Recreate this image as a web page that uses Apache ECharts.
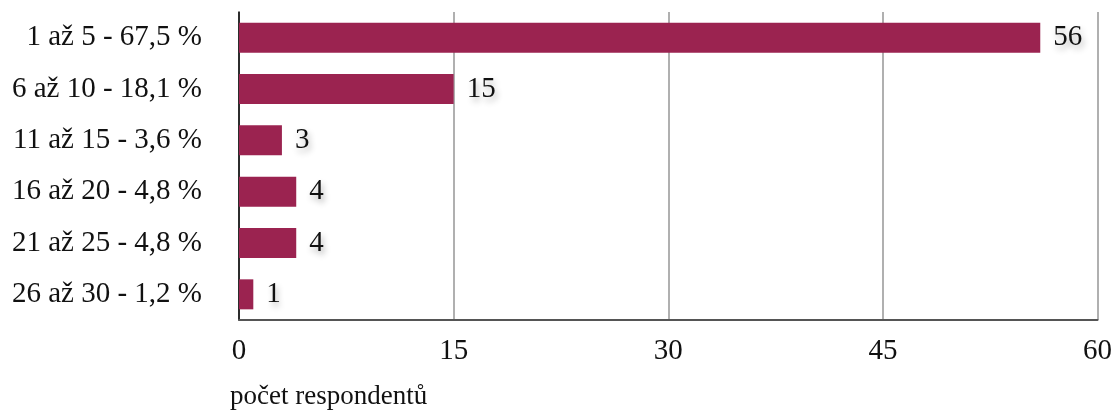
<!DOCTYPE html>
<html><head><meta charset="utf-8">
<script src="https://cdn.jsdelivr.net/npm/echarts@6/dist/echarts.min.js"></script>
<style>html,body{margin:0;padding:0;background:#fff}#c{width:1115px;height:410px}</style>
</head><body><div id="c"></div>
<script>
const categories = ["1 až 5 - 67,5 %", "6 až 10 - 18,1 %", "11 až 15 - 3,6 %", "16 až 20 - 4,8 %", "21 až 25 - 4,8 %", "26 až 30 - 1,2 %"];
const values = [56, 15, 3, 4, 4, 1];
const xTicks = [0, 15, 30, 45, 60];
const xTitle = "počet respondentů";
const font = "'Liberation Serif', 'Times New Roman', serif";
const chart = echarts.init(document.getElementById('c'));
chart.setOption({
  animation: false,
  grid: {left: 239, right: 16, top: 12, bottom: 90, containLabel: false},
  xAxis: {
    type: 'value', min: xTicks[0], max: xTicks[xTicks.length - 1], interval: xTicks[1] - xTicks[0],
    axisLine: {show: true, lineStyle: {color: '#555', width: 2}},
    axisTick: {show: false},
    splitLine: {show: true, lineStyle: {color: '#b0b0b0', width: 2}},
    axisLabel: {fontFamily: font, fontSize: 29, color: '#111', margin: 17},
    name: xTitle, nameLocation: 'start',
    nameTextStyle: {fontFamily: font, fontSize: 27, color: '#111', align: 'left', verticalAlign: 'top', padding: [63, 0, 0, -9]},
    nameGap: 0
  },
  yAxis: {
    type: 'category', data: categories, inverse: true,
    axisLine: {show: true, onZero: false, lineStyle: {color: '#000', width: 1.5}},
    axisTick: {show: false},
    axisLabel: {fontFamily: font, fontSize: 29, color: '#111', margin: 37}
  },
  series: [{
    type: 'bar', data: values, barWidth: 30,
    itemStyle: {color: '#9b2350'},
    label: {
      show: true, position: 'right', distance: 13,
      fontFamily: font, fontSize: 29, color: '#111',
      textShadowColor: 'rgba(0,0,0,0.3)', textShadowBlur: 6, textShadowOffsetX: 2, textShadowOffsetY: 4
    }
  }]
});
</script></body></html>
